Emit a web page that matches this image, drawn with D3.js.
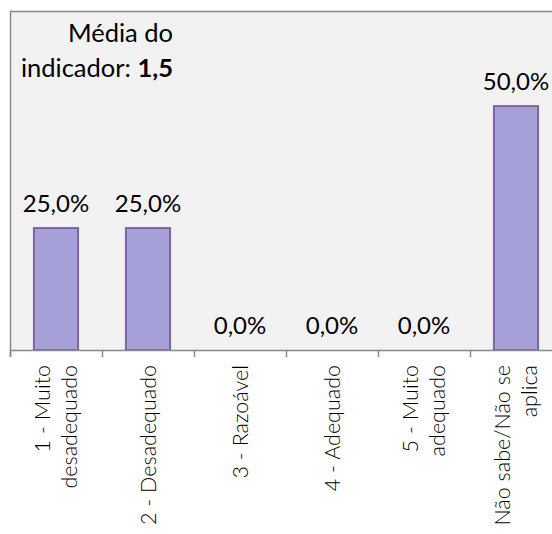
<!DOCTYPE html>
<html>
<head>
<meta charset="utf-8">
<script src="https://cdn.jsdelivr.net/npm/d3@7"></script>
<style>
  body { margin: 0; background: #fff; }
  svg { display: block; font-family: Lato, "Open Sans", sans-serif; }
</style>
</head>
<body>
<svg id="chart" width="552" height="534"></svg>
<script>
// chart values
const categories = [
    ['1 - Muito', 'desadequado'],
    ['2 - Desadequado'],
    ['3 - Razoável'],
    ['4 - Adequado'],
    ['5 - Muito', 'adequado'],
    ['Não sabe/Não se', 'aplica'],
]
const values = [25.0, 25.0, 0.0, 0.0, 0.0, 50.0]
const valueLabels = ['25,0%', '25,0%', '0,0%', '0,0%', '0,0%', '50,0%']
const titleLines = ['Média do', 'indicador: ']
const meanValue = '1,5'

const plot = { left: 10, top: 11, right: 562, bottom: 350 }

const svg = d3.select('#chart')

// plot area background
svg.append('rect')
    .attr('x', plot.left)
    .attr('y', plot.top)
    .attr('width', plot.right - plot.left)
    .attr('height', plot.bottom - plot.top)
    .attr('fill', '#f2f2f2')

let x = d3.scaleBand()
    .domain(d3.range(categories.length))
    .range([plot.left, plot.right])
    .paddingInner(0.52)
    .paddingOuter(0.26)

// band without padding for tick marks
let xTick = d3.scaleBand()
    .domain(d3.range(categories.length))
    .range([plot.left, plot.right])

let y = d3.scaleLinear()
    .domain([0, 69.5])
    .range([plot.bottom, plot.top])

// bars
svg.selectAll('.bar')
    .data(values)
    .enter()
    .append('rect')
    .attr('class', 'bar')
    .attr('x', function(d, i) { return x(i) })
    .attr('y', function(d) { return y(d) })
    .attr('width', x.bandwidth())
    .attr('height', function(d) { return y(0) - y(d) })
    .attr('fill', '#a5a0d7')
    .attr('stroke', '#8064a2')
    .attr('stroke-width', 2)
    .style('display', function(d) { return d > 0 ? null : 'none' })

// data labels
svg.selectAll('.val')
    .data(values)
    .enter()
    .append('text')
    .attr('class', 'val')
    .attr('x', function(d, i) { return x(i) + x.bandwidth() / 2 })
    .attr('y', function(d) { return y(d) - 16 })
    .attr('text-anchor', 'middle')
    .attr('font-size', 24)
    .attr('fill', '#000')
    .text(function(d, i) { return valueLabels[i] })

// frame: top and left borders
svg.append('path')
    .attr('d', `M${plot.right},${plot.top + 0.5} H${plot.left + 0.5} V${plot.bottom + 7}`)
    .attr('fill', 'none')
    .attr('stroke', '#898989')
    .attr('stroke-width', 1.5)

// x axis
let axis = svg.append('g')
    .attr('transform', `translate(0,${plot.bottom})`)
    .call(d3.axisBottom(x).tickSize(0).tickFormat(''))
axis.select('.domain').attr('stroke', '#898989').attr('stroke-width', 1.5)

svg.selectAll('.tick-mark')
    .data(d3.range(categories.length))
    .enter()
    .append('line')
    .attr('class', 'tick-mark')
    .attr('x1', function(i) { return xTick(i) + 0.5 })
    .attr('x2', function(i) { return xTick(i) + 0.5 })
    .attr('y1', plot.bottom)
    .attr('y2', plot.bottom + 7)
    .attr('stroke', '#898989')
    .attr('stroke-width', 1.5)

// category labels, rotated
let lineGap = 27
let catGroups = svg.selectAll('.cat')
    .data(categories)
    .enter()
    .append('g')
    .attr('class', 'cat')
    .attr('transform', function(d, i) {
        return `translate(${x(i) + x.bandwidth() / 2},${plot.bottom + 15}) rotate(-90)`
    })

catGroups.each(function(lines) {
    let g = d3.select(this)
    let offset = -(lines.length - 1) * lineGap / 2
    lines.forEach(function(line, j) {
        g.append('text')
            .attr('x', 0)
            .attr('y', offset + j * lineGap)
            .attr('dy', '0.35em')
            .attr('text-anchor', 'end')
            .attr('font-size', 21.5)
            .attr('font-weight', 300)
            .attr('fill', '#000')
            .text(line)
    })
})

// title text
let title = svg.append('text')
    .attr('text-anchor', 'end')
    .attr('font-size', 25.5)
    .attr('fill', '#000')
title.append('tspan').attr('x', 173).attr('y', 42).text(titleLines[0])
let second = title.append('tspan').attr('x', 173).attr('y', 77)
second.append('tspan').text(titleLines[1])
second.append('tspan').attr('font-weight', 'bold').text(meanValue)
</script>
</body>
</html>
